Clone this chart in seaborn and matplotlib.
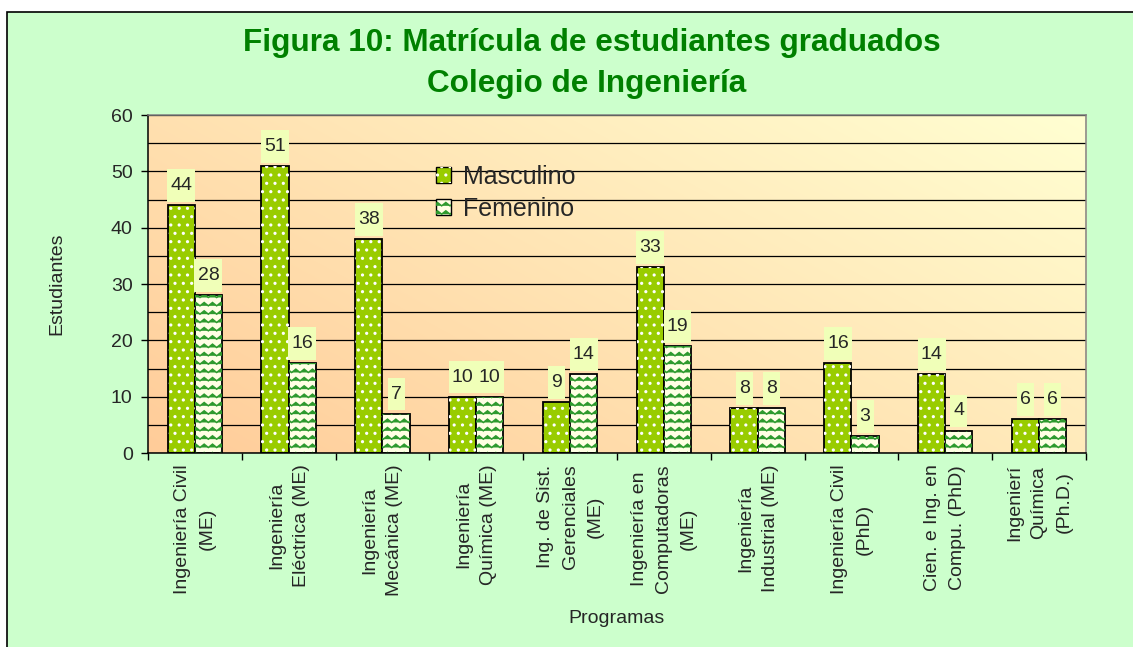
import warnings
import numpy as np
import pandas as pd
import matplotlib
matplotlib.use("Agg")
import matplotlib.pyplot as plt
import seaborn as sns
from matplotlib import hatch as mhatch
from matplotlib.path import Path
from matplotlib.patches import Rectangle, Patch
from matplotlib.legend_handler import HandlerTuple

warnings.filterwarnings("ignore")

# Data
programas = [
    "Ingeniería Civil\n(ME)",
    "Ingeniería\nEléctrica (ME)",
    "Ingeniería\nMecánica (ME)",
    "Ingeniería\nQuímica (ME)",
    "Ing. de Sist.\nGerenciales\n(ME)",
    "Ingeniería en\nComputadoras\n(ME)",
    "Ingeniería\nIndustrial (ME)",
    "Ingeniería Civil\n(PhD)",
    "Cien. e Ing. en\nCompu. (PhD)",
    "Ingenierí\nQuímica\n(Ph.D.)",
]
masculino = [44, 51, 38, 10, 9, 33, 8, 16, 14, 6]
femenino = [28, 16, 7, 10, 14, 19, 8, 3, 4, 6]
series = ["Masculino", "Femenino"]

df = pd.DataFrame({
    "Programa": programas * 2,
    "Estudiantes": masculino + femenino,
    "Sexo": [series[0]] * len(programas) + [series[1]] * len(programas),
})


# wavy (zigzag) hatch like the Excel pattern fill, used with "~"
class ZigZag(mhatch.HatchPatternBase):
    def __init__(self, hatch, density):
        self.num_lines = int(hatch.count("~") * density)
        self.teeth = self.num_lines
        self.num_vertices = self.num_lines * (2 * self.teeth + 1)

    def set_vertices_and_codes(self, vertices, codes):
        npl = 2 * self.teeth + 1
        xs = np.linspace(0, 1, npl)
        amp = 0.2 / max(self.num_lines, 1)
        offs = amp * np.where(np.arange(npl) % 2 == 0, -1, 1)
        for k in range(self.num_lines):
            y0 = (k + 0.5) / self.num_lines
            vertices[k * npl:(k + 1) * npl, 0] = xs
            vertices[k * npl:(k + 1) * npl, 1] = y0 + offs
            codes[k * npl] = Path.MOVETO
            codes[k * npl + 1:(k + 1) * npl] = Path.LINETO


mhatch._hatch_types.append(ZigZag)


# label box: narrow at the sides, taller above and below (Excel style)
def tall_box(x0, y0, width, height, mutation_size):
    px, py = 0.16 * mutation_size, 0.4 * mutation_size
    x0, y0 = x0 - px, y0 - py
    x1, y1 = x0 + width + 2 * px, y0 + height + 2 * py
    return Path([(x0, y0), (x1, y0), (x1, y1), (x0, y1), (x0, y0)], closed=True)


sns.set_style("white")
plt.rcParams["font.family"] = ["Liberation Sans", "DejaVu Sans"]
plt.rcParams["hatch.linewidth"] = 1.1

GREEN = "#99CC00"
CREAM = "#FFFFE4"
WAVE = "#2E9A2E"
fig = plt.figure(figsize=(11.33, 6.47), dpi=100, facecolor="white")

# outer chart area with border
fig.patches.append(Rectangle((7 / 1133, -0.1), 1.2, 1 - 12 / 647 + 0.1,
                             transform=fig.transFigure, facecolor="#CCFFCC",
                             edgecolor="black", linewidth=1.2, zorder=-10))

ax = fig.add_axes([0.1306, 0.2998, 0.8279, 0.5222])
ax.set_facecolor("none")

# diagonal gradient in the plot area
n = 200
gx, gy = np.meshgrid(np.linspace(0, 1, n), np.linspace(0, 1, n))
t = (gx * 0.6 + gy * 0.4)[..., None]
c0 = np.array([255, 204, 153]) / 255
c1 = np.array([255, 255, 210]) / 255
grad = c0 * (1 - t) + c1 * t
ax.imshow(grad, extent=(0, 1, 0, 1), transform=ax.transAxes, origin="lower",
          aspect="auto", zorder=0, interpolation="bilinear")

sns.barplot(data=df, x="Programa", y="Estudiantes", hue="Sexo",
            palette=[GREEN, CREAM], width=0.58, gap=0, saturation=1,
            legend=False, ax=ax, zorder=2)

hatches = [("..", "white"), ("~~", WAVE)]
for cont, (h, hc) in zip(ax.containers, hatches):
    for p in cont.patches:
        p.set_edgecolor("black")
        p.set_linewidth(1.3)
        p.set_zorder(2)
        ax.add_patch(Rectangle((p.get_x(), p.get_y()), p.get_width(), p.get_height(),
                               fill=False, hatch=h, edgecolor=hc, linewidth=0, zorder=2.5))
    ax.bar_label(cont, padding=8, fontsize=14,
                 bbox=dict(boxstyle=tall_box, facecolor="#F0FFB8", edgecolor="none"),
                 zorder=4)

ax.set_xlim(-0.5, len(programas) - 0.5)
ax.set_ylim(0, 60)
ax.set_xticks(np.arange(-0.5, len(programas), 1))
ax.set_xticklabels([])
ax.set_xticks(range(len(programas)), programas, minor=True, rotation=90,
              fontsize=14, ha="center", va="top", multialignment="center",
              linespacing=1.6)
ax.tick_params(axis="x", which="major", direction="out", length=5, width=1,
               color="black", bottom=True)
ax.tick_params(axis="x", which="minor", length=0, pad=8)
ax.set_yticks(range(0, 61, 10))
ax.set_yticks(range(5, 60, 10), minor=True)
ax.tick_params(axis="y", which="major", direction="out", length=5, width=1,
               color="black", left=True, labelsize=14, pad=6)
ax.tick_params(axis="y", which="minor", length=0)
ax.grid(axis="y", which="both", color="black", linewidth=0.9, zorder=1)
ax.set_axisbelow(True)

for s in ["left", "bottom"]:
    ax.spines[s].set_color("black")
    ax.spines[s].set_linewidth(1.1)
for s in ["top", "right"]:
    ax.spines[s].set_color("#808080")
    ax.spines[s].set_linewidth(1.1)

ax.set_xlabel("Programas", fontsize=14)
ax.set_ylabel("Estudiantes", fontsize=14)
ax.xaxis.set_label_coords(0.5, -0.464)
ax.yaxis.set_label_coords(-0.0885, 0.5)

handles = [
    (Patch(facecolor=GREEN, edgecolor="black", linewidth=1),
     Patch(fill=False, hatch="..", edgecolor="white", linewidth=0)),
    (Patch(facecolor=CREAM, edgecolor="black", linewidth=1),
     Patch(fill=False, hatch="~~", edgecolor=WAVE, linewidth=0)),
]
ax.legend(handles, series, handler_map={tuple: HandlerTuple(ndivide=1, pad=0)},
          loc="upper left", bbox_to_anchor=(0.283, 0.919), frameon=False,
          fontsize=18, handlelength=0.6, handleheight=0.6, handletextpad=0.48,
          labelspacing=0.3)

fig.text(0.5225, 1 - 51 / 647, "Figura 10: Matrícula de estudiantes graduados",
         ha="center", va="baseline", fontsize=22.7, fontweight="bold", color="#008000")
fig.text(0.518, 1 - 92 / 647, "Colegio de Ingeniería",
         ha="center", va="baseline", fontsize=22.7, fontweight="bold", color="#008000")

fig.savefig("out.png", dpi=100, facecolor=fig.get_facecolor())
